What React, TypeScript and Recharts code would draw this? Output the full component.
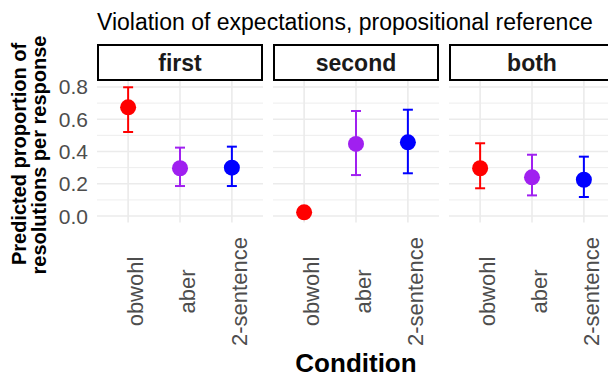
import React from 'react';
import { ScatterChart, Scatter, XAxis, YAxis, ErrorBar, ReferenceLine } from 'recharts';

const panels = ['first', 'second', 'both'];
const conditions = ['obwohl', 'aber', '2-sentence'];
const colors = ['#FF0000', '#A020F0', '#0000FF'];

// point estimates and interval bounds, one row per panel, in condition order
const estimates = [
  [0.674, 0.296, 0.3],
  [0.023, 0.447, 0.457],
  [0.296, 0.24, 0.225],
];
const lowers = [
  [0.521, 0.186, 0.186],
  [0.012, 0.254, 0.265],
  [0.172, 0.128, 0.118],
];
const uppers = [
  [0.798, 0.424, 0.43],
  [0.036, 0.651, 0.659],
  [0.451, 0.38, 0.368],
];

const yTicks = [0, 0.2, 0.4, 0.6, 0.8];
const yMinor = [0.1, 0.3, 0.5, 0.7];
const xTicks = [1, 2, 3];

const font = '"Liberation Sans", Arial, Helvetica, sans-serif';
const tickGrey = '#4D4D4D';
const gridGrey = '#EBEBEB';

const PANEL_LEFT = [0, 273, 449];
const PANEL_WIDTH = [263, 166, 166];
const PLOT_X = [97, 273, 449];
const PLOT_W = 166;

const CondTick = (props: any) => {
  const { x, payload } = props;
  const bx = x + 15;
  const cy = 291.5;
  return (
    <text
      x={bx}
      y={cy}
      transform={`rotate(-90, ${bx}, ${cy})`}
      textAnchor="middle"
      fontSize={22}
      fontFamily={font}
      fill={tickGrey}
    >
      {conditions[payload.value - 1]}
    </text>
  );
};

const Panel = ({ idx }: { idx: number }) => {
  const first = idx === 0;
  return (
    <div style={{ position: 'absolute', left: PANEL_LEFT[idx], top: 0 }}>
      <ScatterChart
        width={PANEL_WIDTH[idx]}
        height={377}
        margin={{ top: 80.5, right: 0, bottom: 14.5, left: 0 }}
      >
        <XAxis
          type="number"
          dataKey="x"
          domain={[0.4, 3.6]}
          ticks={xTicks}
          allowDataOverflow
          axisLine={false}
          tickLine={false}
          height={140}
          interval={0}
          tick={<CondTick />}
        />
        <YAxis
          type="number"
          dataKey="y"
          domain={[-0.04, 0.84]}
          ticks={yTicks}
          allowDataOverflow
          hide={!first}
          width={first ? 97 : 0}
          axisLine={false}
          tickLine={false}
          tickSize={6}
          tickMargin={3}
          tickFormatter={(v: number) => v.toFixed(1)}
          tick={{ fontSize: 21, fill: tickGrey, fontFamily: font }}
        />
        {yMinor.map((v) => (
          <ReferenceLine key={'m' + v} y={v} stroke={gridGrey} strokeWidth={0.9} />
        ))}
        {yTicks.map((v) => (
          <ReferenceLine key={'y' + v} y={v} stroke={gridGrey} strokeWidth={1.6} />
        ))}
        {xTicks.map((v) => (
          <ReferenceLine key={'x' + v} x={v} stroke={gridGrey} strokeWidth={1.6} />
        ))}
        {conditions.map((c, i) => {
          const est = estimates[idx][i];
          const data = [
            { x: i + 1, y: est, err: [est - lowers[idx][i], uppers[idx][i] - est] },
          ];
          return (
            <Scatter
              key={c}
              name={c}
              data={data}
              fill={colors[i]}
              isAnimationActive={false}
              shape={(p: any) => <circle cx={p.cx} cy={p.cy} r={8} fill={colors[i]} />}
            >
              <ErrorBar
                dataKey="err"
                direction="y"
                width={5}
                strokeWidth={2}
                stroke={colors[i]}
                isAnimationActive={false}
              />
            </Scatter>
          );
        })}
      </ScatterChart>
    </div>
  );
};

const App = () => {
  return (
    <div
      style={{
        position: 'absolute',
        left: 0,
        top: 0,
        width: 608,
        height: 377,
        overflow: 'hidden',
        background: '#fff',
      }}
    >
      {panels.map((p, i) => (
        <Panel key={p} idx={i} />
      ))}
      <svg
        width={608}
        height={377}
        style={{ position: 'absolute', left: 0, top: 0, pointerEvents: 'none' }}
        fontFamily={font}
      >
        <text x={97} y={30} fontSize={23} fill="#000">
          Violation of expectations, propositional reference
        </text>
        {panels.map((p, i) => (
          <g key={p}>
            <rect x={PLOT_X[i] + 1} y={45} width={PLOT_W - 2} height={35} fill="#fff" stroke="#000" strokeWidth={2} />
            <text x={PLOT_X[i] + PLOT_W / 2} y={71} textAnchor="middle" fontSize={23} fontWeight="bold" fill="#1A1A1A">
              {p}
            </text>
          </g>
        ))}
        <text x={26} y={154} transform="rotate(-90, 26, 154)" textAnchor="middle" fontSize={20} fontWeight="bold">
          Predicted proportion of
        </text>
        <text x={46} y={155} transform="rotate(-90, 46, 155)" textAnchor="middle" fontSize={20} fontWeight="bold">
          resolutions per response
        </text>
        <text x={356} y={372} textAnchor="middle" fontSize={26} fontWeight="bold">
          Condition
        </text>
      </svg>
    </div>
  );
};

export default App;
